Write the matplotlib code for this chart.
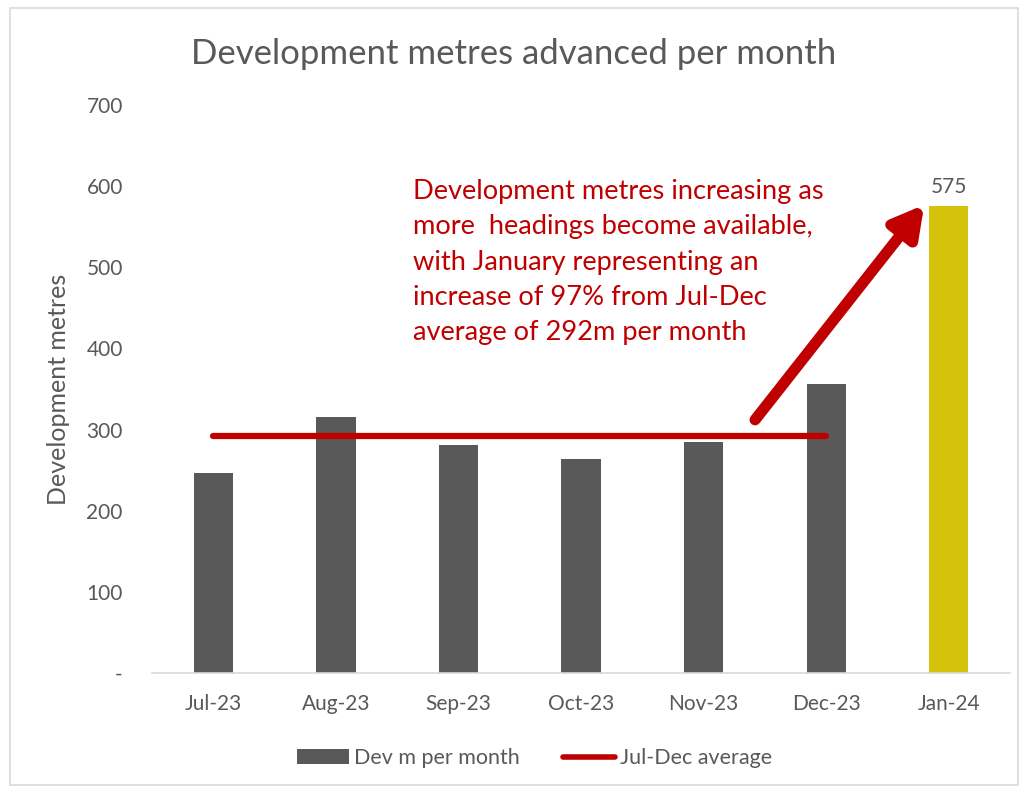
import matplotlib.pyplot as plt
import numpy as np
from matplotlib.patches import Patch, Rectangle
from matplotlib.lines import Line2D

plt.rcParams['font.family'] = ['Lato', 'DejaVu Sans']

# Data
months = ['Jul-23', 'Aug-23', 'Sep-23', 'Oct-23', 'Nov-23', 'Dec-23', 'Jan-24']
dev_metres = [246, 315, 281, 264, 285, 356, 575]
avg_jul_dec = 292
y_ticks = [0, 100, 200, 300, 400, 500, 600, 700]
y_tick_labels = ['-', '100', '200', '300', '400', '500', '600', '700']

note = ("Development metres increasing as\n"
        "more  headings become available,\n"
        "with January representing an\n"
        "increase of 97% from Jul-Dec\n"
        "average of 292m per month")

GREY = '#595959'
RED = '#C00000'
YELLOW = '#D4C30A'
TEXT = '#595959'

fig = plt.figure(figsize=(10.28, 7.9), dpi=100)
ax = fig.add_axes([0.1479, 0.1481, 0.8346, 0.719])

# chart border
fig.patches.append(Rectangle((0.01, 0.006), 0.98, 0.984, transform=fig.transFigure,
                             fill=False, edgecolor='#D9D9D9', lw=1.2))

x = np.arange(len(months))
colors = [GREY] * (len(months) - 1) + [YELLOW]
ax.bar(x, dev_metres, width=0.32, color=colors, zorder=2)

# Jul-Dec average line
ax.plot([x[0], x[5]], [avg_jul_dec, avg_jul_dec], color=RED, lw=4.5,
        solid_capstyle='round', zorder=3)

# data label on January
ax.text(x[6], dev_metres[6] + 12, str(dev_metres[6]), ha='center', va='bottom',
        fontsize=15, color=TEXT)

# annotation text and arrow
ax.text(1.63, 609, note, ha='left', va='top', fontsize=19.6, color=RED,
        linespacing=1.52)
ax.annotate('', xy=(5.8, dev_metres[6] + 2), xytext=(4.42, 312),
            arrowprops=dict(arrowstyle='-|>,head_width=0.5,head_length=0.9',
                            color=RED, lw=8, mutation_scale=20,
                            shrinkA=0, shrinkB=0))

ax.set_xlim(-0.5, len(months) - 0.5)
ax.set_ylim(0, 700)
ax.set_xticks(x)
ax.set_xticklabels(months)
ax.set_yticks(y_ticks)
ax.set_yticklabels(y_tick_labels)
ax.tick_params(axis='both', length=0, labelsize=15, labelcolor=TEXT)
ax.tick_params(axis='y', pad=21)
ax.tick_params(axis='x', pad=15)

for s in ['top', 'right', 'left']:
    ax.spines[s].set_visible(False)
ax.spines['bottom'].set_color('#D9D9D9')
ax.spines['bottom'].set_linewidth(1.2)

ax.set_ylabel('Development metres', fontsize=18, color=TEXT, labelpad=12)

fig.suptitle('Development metres advanced per month', fontsize=25,
             color=TEXT, y=0.952)

handles = [Patch(facecolor=GREY, label='Dev m per month'),
           Line2D([0], [0], color=RED, lw=4, solid_capstyle='round',
                  label='Jul-Dec average')]
fig.legend(handles=handles, loc='center', bbox_to_anchor=(0.52, 0.04), ncol=2,
           frameon=False, fontsize=15.5, labelcolor=TEXT, handlelength=2.4,
           handletextpad=0.25, columnspacing=2.0)

plt.savefig('out.png', dpi=100)
plt.close()
